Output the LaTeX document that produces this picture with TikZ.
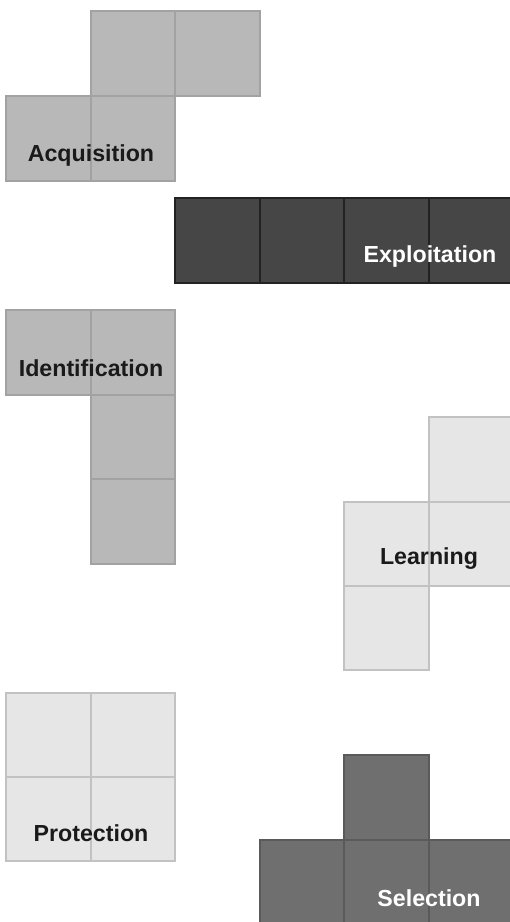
\documentclass[tikz,border=0pt]{standalone}
\usepackage{fontspec}
\setmainfont{Liberation Sans}
\begin{document}
\begin{tikzpicture}[x=1pt,y=-1pt,
  cell/.style={rectangle,minimum size=84.5pt,inner sep=0pt,line width=1.6pt},
  midgray/.style={cell,fill=cMid,draw=cMidB},
  darkgray/.style={cell,fill=cDark,draw=cDarkB},
  lightgray/.style={cell,fill=cLight,draw=cLightB},
  stone/.style={cell,fill=cStone,draw=cStoneB},
  lbl/.style={font=\fontsize{23.2}{26}\selectfont\bfseries,text=cText,inner sep=0pt},
  lblw/.style={lbl,text=white}]
\definecolor{cMid}{HTML}{B8B8B8}\definecolor{cMidB}{HTML}{A2A2A2}
\definecolor{cDark}{HTML}{464646}\definecolor{cDarkB}{HTML}{222222}
\definecolor{cLight}{HTML}{E6E6E6}\definecolor{cLightB}{HTML}{C2C2C2}
\definecolor{cStone}{HTML}{6F6F6F}\definecolor{cStoneB}{HTML}{5A5A5A}
\definecolor{cText}{HTML}{1A1A1A}
\useasboundingbox (0,0) rectangle (510,922);
% Acquisition
\node[midgray] (a1) at (133,53.5) {};
\node[midgray] (a2) at (217.5,53.5) {};
\node[midgray] (a3) at (48.4,138.5) {};
\node[midgray] (a4) at (133,138.5) {};
\node[lbl] (la) at (91,155) {Acquisition};
% Exploitation
\node[darkgray] (e1) at (217.5,240.5) {};
\node[darkgray] (e2) at (302,240.5) {};
\node[darkgray] (e3) at (386.5,240.5) {};
\node[darkgray] (e4) at (471,240.5) {};
\node[lblw] (le) at (430,256) {Exploitation};
% Identification
\node[midgray] (i1) at (48.4,352.5) {};
\node[midgray] (i2) at (133,352.5) {};
\node[midgray] (i3) at (133,437) {};
\node[midgray] (i4) at (133,521.5) {};
\node[lbl] (li) at (91,368) {Identification};
% Learning
\node[lightgray] (l1) at (471,459.5) {};
\node[lightgray] (l2) at (386.5,544) {};
\node[lightgray] (l3) at (471,544) {};
\node[lightgray] (l4) at (386.5,628) {};
\node[lbl] (ll) at (429,559) {Learning};
% Protection
\node[lightgray] (p1) at (48.4,735) {};
\node[lightgray] (p2) at (133,735) {};
\node[lightgray] (p3) at (48.4,819) {};
\node[lightgray] (p4) at (133,819) {};
\node[lbl] (lp) at (91,833) {Protection};
% Selection
\node[stone] (s1) at (386.5,797.5) {};
\node[stone] (s2) at (302,882.5) {};
\node[stone] (s3) at (386.5,882.5) {};
\node[stone] (s4) at (471,882.5) {};
\node[lblw] (ls) at (429,898) {Selection};
\end{tikzpicture}
\end{document}
